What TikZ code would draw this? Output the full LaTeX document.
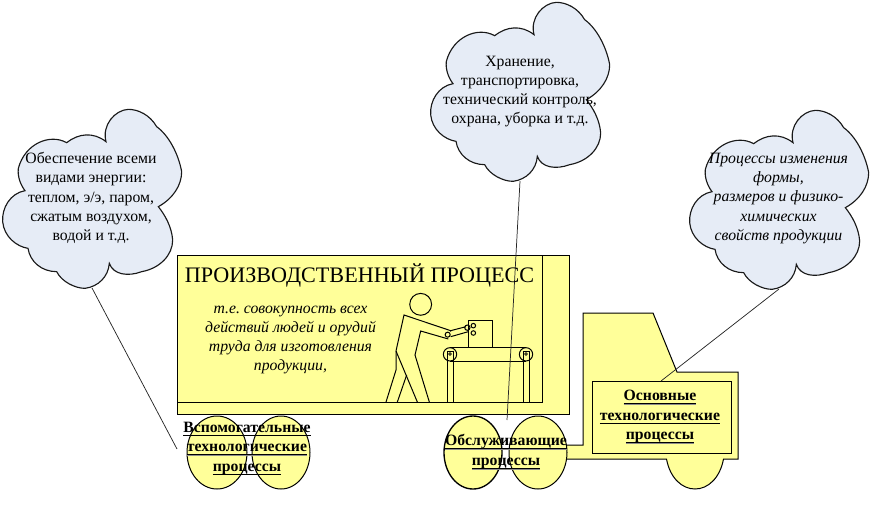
\documentclass[tikz,border=0pt]{standalone}
\usepackage{fontspec}
\setmainfont{Liberation Serif}
\frenchspacing
\definecolor{truckyellow}{HTML}{FFFF99}
\definecolor{cloudblue}{HTML}{E6ECF6}
\newsavebox{\ulbox}
\newcommand{\ulined}[1]{\leavevmode\sbox{\ulbox}{#1}\rlap{\textcolor{black!45}{\rule[-3.1pt]{\wd\ulbox}{.6pt}}}\rlap{\rule[-2.7pt]{\wd\ulbox}{.8pt}}\usebox{\ulbox}}
\tikzset{
  body/.style={draw=black,line width=.75pt,fill=truckyellow},
  cloudshape/.style={draw=black!90,line width=.85pt,fill=cloudblue},
  fig/.style={draw=black,line width=.75pt},
  leader/.style={draw=black!85,line width=.55pt},
  plain/.style={align=center,inner sep=0pt,font=\fontsize{11.8pt}{14.4pt}\selectfont},
  slant/.style={align=center,inner sep=0pt,font=\fontsize{11.8pt}{14.4pt}\selectfont\itshape},
  strong/.style={align=center,inner sep=0pt,font=\fontsize{11.8pt}{14.6pt}\selectfont\bfseries}
}
\newcommand{\cloudat}[2]{%
  \begin{scope}[shift={(#1,#2)},x=.25pt,y=-.25pt]
  \path[cloudshape] (200,128) .. controls (150,100) and (75,130) .. (55,205)
    .. controls (52,230) and (62,255) .. (75,272)
    .. controls (30,280) and (5,325) .. (8,365)
    .. controls (12,410) and (50,440) .. (84,445)
    .. controls (90,485) and (125,515) .. (170,515)
    .. controls (185,545) and (225,565) .. (255,565)
    .. controls (295,560) and (325,530) .. (328,490)
    .. controls (340,525) and (385,530) .. (425,515)
    .. controls (480,505) and (518,465) .. (518,420)
    .. controls (515,380) and (495,345) .. (475,320)
    .. controls (520,295) and (545,255) .. (545,215)
    .. controls (535,160) and (505,105) .. (470,80)
    .. controls (450,45) and (415,28) .. (385,28)
    .. controls (345,30) and (305,75) .. (318,125)
    .. controls (280,95) and (235,100) .. (200,128) -- cycle;
  \end{scope}}
\begin{document}
\begin{tikzpicture}[x=.75pt,y=-.75pt]
\useasboundingbox (0,0) rectangle (870,518);
% clouds
\cloudat{0}{100}
\cloudat{428}{-7}
\cloudat{687}{101}
% trailer
\path[body] (177,255) rectangle (569,414);
\path[fig] (177,402) -- (542,402) -- (542,255);
% cab with rear wheel
\path[body] (583,445) -- (583,313) -- (653,313) -- (677,372) -- (738,372) -- (738,459) -- (723.5,459)
  .. controls (720,478) and (708,489) .. (695,489) .. controls (682,489) and (670,478) .. (666.5,459)
  -- (560,459) -- (560,445) -- cycle;
\node[body,minimum width=104.25pt,minimum height=54pt,inner sep=0pt,anchor=north west] (box) at (592,381) {};
% worker and conveyor
\begin{scope}[shift={(380,285)},x=.25pt,y=-.25pt]
  \draw[fig] (122,58) circle[radius=8.2pt];
  \draw[fig] (18,351) -- (48,255) -- (48,198) -- (72,90) -- (212,137) -- (212,140);
  \draw[fig] (48,198) -- (112,351);
  \draw[fig] (80,270) -- (52,351);
  \draw[fig] (148,351) -- (105,210) -- (122,138) -- (205,162);
  \draw[fig] (212,137) -- (258,125);
  \draw[fig] (212,155) -- (265,140);
  \draw[fig] (203,149) circle[radius=1.9pt];
  \draw[fig] (262,128) circle[radius=2pt];
  \draw[fig] (280,122) circle[radius=1.7pt];
  \draw[fig] (280,144) circle[radius=1.7pt];
  \draw[fig] (265,187) -- (265,106) -- (337,106) -- (337,187);
  \draw[fig] (210,187) -- (438,187);
  \draw[fig] (210,229) -- (438,229);
  \draw[fig] (210,208) circle[radius=5pt];
  \draw[fig] (438,208) circle[radius=5pt];
  \draw[fig] (203,351) -- (203,200) -- (220,200) -- (220,351);
  \draw[fig] (431,351) -- (431,200) -- (447,200) -- (447,351);
  \draw[fig,line width=.5pt] (210,207) circle[radius=1pt];
  \draw[fig,line width=.5pt] (438,207) circle[radius=1pt];
\end{scope}
% wheels
\path[body] (217,452.5) ellipse[x radius=30,y radius=36.5];
\path[body] (281,452.5) ellipse[x radius=29,y radius=36.5];
\path[body,line width=1pt] (473,452.5) ellipse[x radius=29,y radius=36.5];
\path[body] (538,452.5) ellipse[x radius=29,y radius=36.5];
% cloud tails and connectors
\coordinate (tailA) at (92,288);
\coordinate (endA) at (177,449);
\coordinate (tailB) at (520,181);
\coordinate (endB) at (507,420);
\coordinate (tailC) at (779,289);
\coordinate (endC) at (661,381);
\draw[leader] (tailA) -- (endA);
\draw[leader] (tailB) -- (endB);
\draw[leader] (tailC) -- (endC);
% texts
\node[plain] (t1) at (91,198) {Обеспечение всеми\\видами энергии:\\теплом, э/э, паром,\\сжатым воздухом,\\водой и т.д.};
\node[plain] (t2) at (520,91.5) {Хранение,\\транспортировка,\\технический контроль,\\охрана, уборка и т.д.};
\node[slant] (t3) at (778.5,198.5) {Процессы изменения\\формы,\\размеров и физико-\\химических\\свойств продукции};
\node[inner sep=0pt,font=\fontsize{16.6pt}{19pt}\selectfont] (title) at (359.5,275.5) {ПРОИЗВОДСТВЕННЫЙ ПРОЦЕСС};
\node[slant] (sub) at (290.5,340) {т.е. совокупность всех\\действий людей и орудий\\труда для изготовления\\продукции,};
\node[strong] (s1) at (247,448.5) {\ulined{Вспомогательные}\\\ulined{технологические}\\\ulined{процессы}};
\node[strong] (s2) at (506,452) {\ulined{Обслуживающие}\\\ulined{процессы}};
\node[strong] (s3) at (660,417) {\ulined{Основные}\\\ulined{технологические}\\\ulined{процессы}};
\end{tikzpicture}
\end{document}
